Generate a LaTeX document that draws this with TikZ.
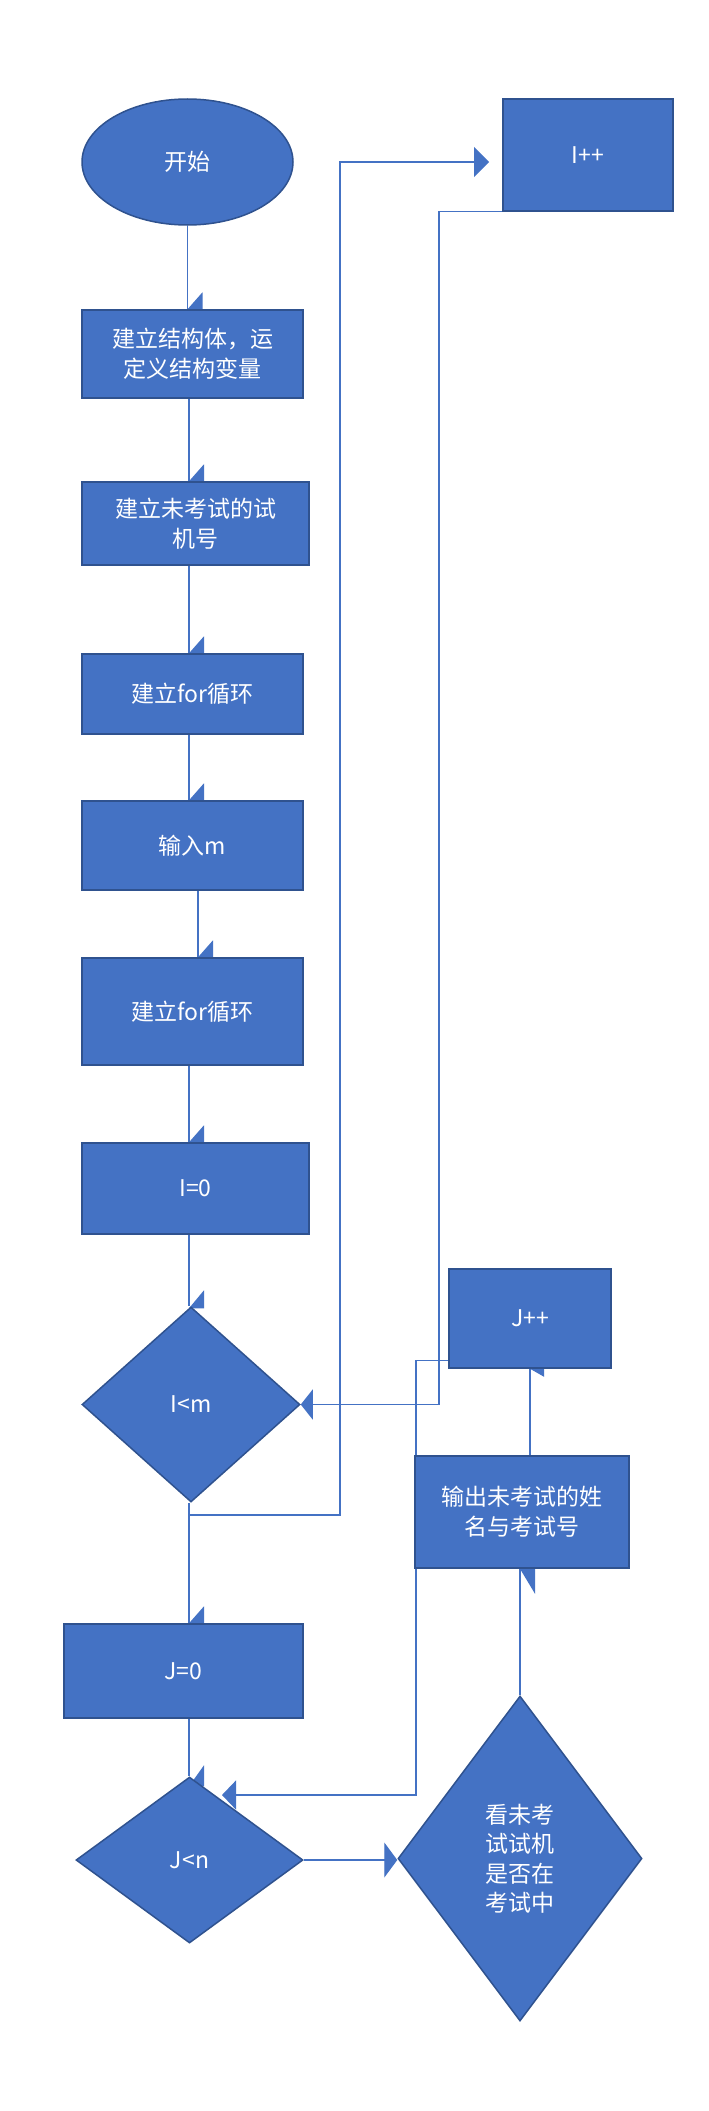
\documentclass[tikz,border=0pt]{standalone}
\usepackage{fontspec}
\setmainfont{Noto Sans CJK SC}
\usetikzlibrary{shapes.geometric,arrows.meta,backgrounds,calc}
\definecolor{fillblue}{HTML}{4472C4}
\definecolor{edgeblue}{HTML}{2F528F}
\definecolor{lineblue}{HTML}{4472C4}
\begin{document}
\begin{tikzpicture}[x=1pt,y=-1pt,
  base/.style={fill=fillblue, draw=edgeblue, line width=1.5pt, text=white,
    inner sep=0pt, align=center, font=\fontsize{23}{30}\selectfont},
  procbox/.style={base, rectangle},
  oval/.style={base, ellipse},
  decision/.style={base, diamond},
  conn/.style={draw=lineblue, line width=1.1pt},
  tipA/.style={-{Triangle[length=#1pt,width=30pt]}},
  tipA/.default=14
]
\useasboundingbox (0,0) rectangle (709,2111);

% nodes
\node[oval, minimum width=211pt, minimum height=126pt] (start) at (187.5,162) {开始};
\node[procbox, minimum width=221pt, minimum height=88pt] (b1) at (192.5,354) {建立结构体，运\\定义结构变量};
\node[procbox, minimum width=227pt, minimum height=83pt] (b2) at (195.5,523.5) {建立未考试的试\\机号};
\node[procbox, minimum width=221pt, minimum height=80pt] (b3) at (192.5,694) {建立for循环};
\node[procbox, minimum width=221pt, minimum height=89pt] (b4) at (192.5,845.5) {输入m};
\node[procbox, minimum width=221pt, minimum height=107pt] (b5) at (192.5,1011.5) {建立for循环};
\node[procbox, minimum width=227pt, minimum height=91pt] (b6) at (195.5,1188.5) {I=0};
\node[decision, minimum width=218pt, minimum height=195pt] (d1) at (191,1404.5) {I<m};
\node[procbox, minimum width=239pt, minimum height=94pt] (b7) at (183.5,1671) {J=0};
\node[decision, minimum width=227pt, minimum height=166pt] (d2) at (189.5,1860) {J<n};
\node[decision, minimum width=244pt, minimum height=325pt, font=\fontsize{23}{29.5}\selectfont] (d3) at (520,1858.5) {看未考\\试试机\\是否在\\考试中};
\node[procbox, minimum width=214pt, minimum height=112pt] (out) at (522,1512) {输出未考试的姓\\名与考试号};
\node[procbox, minimum width=162pt, minimum height=99pt] (jpp) at (530,1318.5) {J++};
\node[procbox, minimum width=170pt, minimum height=112pt] (ipp) at (588,155) {I++};

% helper coordinates
\coordinate (col) at (189,0);
\coordinate (col2) at (198,0);
\coordinate (ilx) at (340,1515);
\coordinate (ippin) at (489,162);
\coordinate (rx) at (439,0);
\coordinate (jx) at (416,0);
\coordinate (jin) at (222,1795);
\coordinate (jppl) at ($(jpp.south west)+(0,-8)$);

\begin{pgfonlayer}{background}
\fill[white] (0,0) rectangle (709,2111);
% main column
\draw[conn] (start.south) -- (start.south |- b1.north);
\draw[conn] (b1.south -| col) -- (b2.north -| col);
\draw[conn] (b2.south -| col) -- (b3.north -| col);
\draw[conn] (b3.south -| col) -- (b4.north -| col);
\draw[conn] (b4.south -| col2) -- (b5.north -| col2);
\draw[conn] (b5.south -| col) -- (b6.north -| col);
\draw[conn] (b6.south -| col) -- (d1.north -| col);
\draw[conn] (d1.south -| col) -- (b7.north -| col);
\draw[conn] (b7.south -| col) -- (d2.north -| col);
% loops
\draw[conn, tipA=15] (d1.south -| col) |- (ilx) |- (ippin);
\draw[conn, tipA=12] (ipp.south) -- (ipp.south -| rx) |- (d1.east);
\draw[conn, -{Triangle[length=14pt,width=29pt]}] (jppl) -- (jppl -| jx) |- (jin);
\draw[conn, -{Triangle[length=13pt,width=35pt]}] (d2.east) -- (d2.east -| d3.west);
\draw[conn] (d3.north) -- (d3.north |- out.south);
\draw[conn] (out.north -| jpp.south) -- (jpp.south);
% half arrow heads
\fill[lineblue] (start.south |- b1.north) -- ++(15,0) -- ++(0,-17) -- cycle;
\fill[lineblue] (b2.north -| col) -- ++(15,0) -- ++(0,-17) -- cycle;
\fill[lineblue] (b3.north -| col) -- ++(15,0) -- ++(0,-17) -- cycle;
\fill[lineblue] (b4.north -| col) -- ++(15,0) -- ++(0,-17) -- cycle;
\fill[lineblue] (b5.north -| col2) -- ++(15,0) -- ++(0,-17) -- cycle;
\fill[lineblue] (b6.north -| col) -- ++(15,0) -- ++(0,-17) -- cycle;
\fill[lineblue] ($(d1.north -| col)+(0,2)$) -- ++(15,0) -- ++(0,-18) -- cycle;
\fill[lineblue] (b7.north -| col) -- ++(15,0) -- ++(0,-17) -- cycle;
\fill[lineblue] ($(d2.north -| col)+(0,10)$) -- ++(15,0) -- ++(0,-21) -- cycle;
\fill[lineblue] (d3.north |- out.south) -- ++(15,0) -- ++(0,25) -- cycle;
\fill[lineblue] (jpp.south) -- ++(14,0) -- ++(0,8) -- cycle;
\end{pgfonlayer}
\end{tikzpicture}
\end{document}
